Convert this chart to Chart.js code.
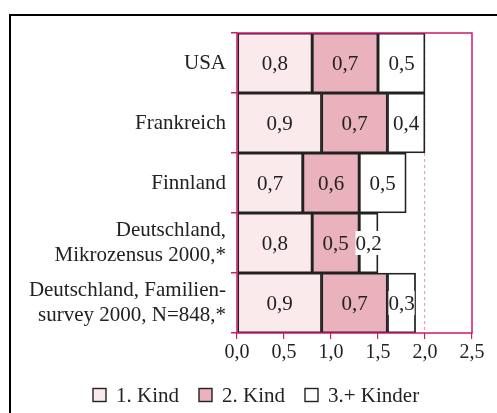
<!DOCTYPE html>
<html>
<head>
<meta charset="utf-8">
<script src="https://cdn.jsdelivr.net/npm/chart.js@4"></script>
<style>
    html, body { margin: 0; padding: 0; background: #fff; }
    #wrap { position: relative; width: 497px; height: 413px; overflow: hidden; }
    #frame { position: absolute; left: 9px; top: 14px; width: 600px; height: 500px;
             border-left: 2px solid #000; border-top: 2px solid #000; }
    canvas { position: absolute; left: 0; top: 0; }
</style>
</head>
<body>
<div id="wrap">
    <div id="frame"></div>
    <canvas id="chart" width="497" height="413"></canvas>
</div>
<script>
// Kinderzahl nach Parität
const countries = [
    'USA',
    'Frankreich',
    'Finnland',
    ['Deutschland,', 'Mikrozensus 2000,*'],
    ['Deutschland, Familien-', 'survey 2000, N=848,*']
];
const seriesNames = ['1. Kind', '2. Kind', '3.+ Kinder'];
const firstChild = [0.8, 0.9, 0.7, 0.8, 0.9];
const secondChild = [0.7, 0.7, 0.6, 0.5, 0.7];
const thirdPlus = [0.5, 0.4, 0.5, 0.2, 0.3];
const xTicks = [0, 0.5, 1, 1.5, 2, 2.5];

const FONT = '"Liberation Serif", "DejaVu Serif", serif';
const TEXT = '#222';
const AXIS = '#cc1a70';

function fmt(v) {
    return v.toFixed(1).replace('.', ',');
}

// value labels in the middle of each segment
const valueLabels = {
    id: 'valueLabels',
    afterDatasetsDraw(chart) {
        const ctx = chart.ctx;
        ctx.save();
        ctx.font = '21px ' + FONT;
        ctx.textAlign = 'center';
        ctx.textBaseline = 'middle';
        chart.data.datasets.forEach((ds, i) => {
            chart.getDatasetMeta(i).data.forEach((bar, j) => {
                const p = bar.getProps(['x', 'y', 'base'], true);
                const cx = (p.x + p.base) / 2;
                const txt = fmt(ds.data[j]);
                if (i === 2) {
                    const w = ctx.measureText(txt).width;
                    ctx.fillStyle = '#fff';
                    ctx.fillRect(cx - w / 2, p.y - 12, w, 24);
                }
                ctx.fillStyle = TEXT;
                ctx.fillText(txt, cx, p.y + 1);
            });
        });
        ctx.restore();
    }
};

// magenta frame around the plot area
const plotFrame = {
    id: 'plotFrame',
    afterDraw(chart) {
        const a = chart.chartArea;
        const ctx = chart.ctx;
        ctx.save();
        ctx.strokeStyle = AXIS;
        ctx.lineWidth = 1.5;
        ctx.strokeRect(a.left, a.top, a.right - a.left, a.bottom - a.top);
        ctx.restore();
    }
};

// legend below the axis
const bottomLegend = {
    id: 'bottomLegend',
    afterDraw(chart) {
        const ctx = chart.ctx;
        const box = 13, gap = 10, itemGap = 20, y = 395;
        ctx.save();
        ctx.font = '21px ' + FONT;
        ctx.textBaseline = 'middle';
        const widths = chart.data.datasets.map(ds => box + gap + ctx.measureText(ds.label).width);
        const total = widths.reduce((s, w) => s + w, 0) + itemGap * (widths.length - 1);
        let x = Math.round(256 - total / 2);
        chart.data.datasets.forEach((ds, i) => {
            ctx.fillStyle = ds.backgroundColor;
            ctx.fillRect(x, y - box / 2, box, box);
            ctx.strokeStyle = '#222';
            ctx.lineWidth = 1.4;
            ctx.strokeRect(x, y - box / 2, box, box);
            ctx.fillStyle = TEXT;
            ctx.fillText(ds.label, x + box + gap, y + 1);
            x += widths[i] + itemGap;
        });
        ctx.restore();
    }
};

const barStyle = {
    borderColor: '#222',
    borderWidth: 1.8,
    borderSkipped: false,
    barPercentage: 1,
    categoryPercentage: 1
};

new Chart(document.getElementById('chart'), {
    type: 'bar',
    data: {
        labels: countries,
        datasets: [
            Object.assign({ label: seriesNames[0], data: firstChild, backgroundColor: '#fbeaec' }, barStyle),
            Object.assign({ label: seriesNames[1], data: secondChild, backgroundColor: '#e9b2bc' }, barStyle),
            Object.assign({ label: seriesNames[2], data: thirdPlus, backgroundColor: '#ffffff' }, barStyle)
        ]
    },
    options: {
        indexAxis: 'y',
        responsive: false,
        animation: false,
        layout: { padding: { top: 33, right: 25, left: 0, bottom: 40 } },
        plugins: {
            legend: { display: false },
            tooltip: { enabled: false }
        },
        scales: {
            x: {
                stacked: true,
                min: 0,
                max: 2.5,
                afterBuildTicks: axis => { axis.ticks = xTicks.map(v => ({ value: v })); },
                afterFit: axis => { axis.height = 40; },
                ticks: {
                    color: TEXT,
                    padding: 2,
                    font: { family: FONT, size: 20 },
                    callback: v => fmt(v)
                },
                grid: {
                    drawOnChartArea: true,
                    color: c => (c.tick && c.tick.value === 2 ? '#f29bb8' : 'rgba(0,0,0,0)'),
                    tickColor: AXIS,
                    tickLength: 6,
                    lineWidth: 1.2
                },
                border: { display: false, dash: [3, 3] }
            },
            y: {
                stacked: true,
                afterFit: axis => { axis.width = 237; },
                ticks: {
                    color: TEXT,
                    padding: 5,
                    font: { family: FONT, size: 21, lineHeight: 1.2 }
                },
                grid: {
                    offset: true,
                    drawOnChartArea: false,
                    tickColor: AXIS,
                    tickLength: 6,
                    lineWidth: 1.5
                },
                border: { display: false }
            }
        }
    },
    plugins: [valueLabels, plotFrame, bottomLegend]
});
</script>
</body>
</html>
